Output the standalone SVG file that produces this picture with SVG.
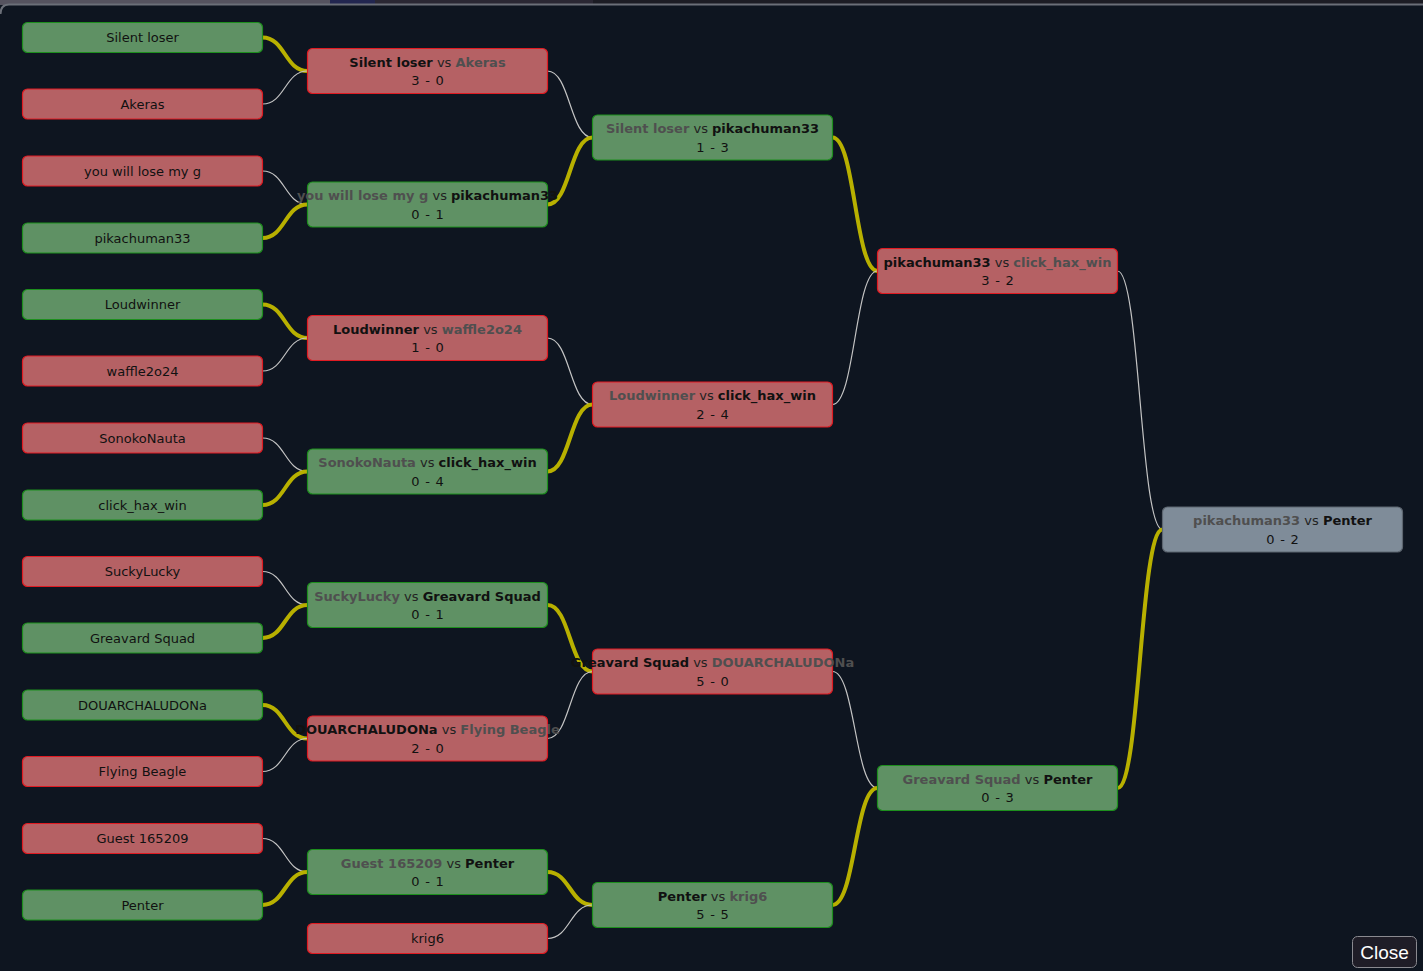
<svg xmlns="http://www.w3.org/2000/svg" width="1423" height="971" viewBox="0 0 1423 971">
<style>
text{font-family:"DejaVu Sans",Verdana,sans-serif;font-size:13px;fill:#111;text-anchor:middle}
.s{word-spacing:1.6px}
.g{fill:#5f9164;stroke:#1d8f1d;stroke-width:1.2}
.r{fill:#b56164;stroke:#e01b22;stroke-width:1.2}
.n{fill:#7f8c99;stroke:#5d6670;stroke-width:1.2}
.w{font-weight:bold;fill:#111}
.l{font-weight:bold;fill:#4f4f4f}
.vs{fill:#222}
#connectors path{fill:none}
.cy{stroke:#b8b000;stroke-width:4}
.cg{stroke:#c4c4c4;stroke-width:1.2}
</style>
<rect x="0" y="0" width="1423" height="971" fill="#0e1520"/>
<rect x="0" y="0" width="330" height="5" fill="#55535f"/>
<rect x="330" y="0" width="45" height="5" fill="#222650"/>
<rect x="375" y="0" width="218" height="5" fill="#2a2733"/>
<rect x="593" y="0" width="830" height="5" fill="#1c1c24"/>
<path d="M0.5,14 Q0.5,4.5 9,4.5 H1423" fill="none" stroke="#6b6f78" stroke-width="2"/>
<g id="connectors">
<path class="cy" d="M262.5,37.5 C285,37.5 285,71 307.5,71"/>
<path class="cg" d="M262.5,104 C285,104 285,71 307.5,71"/>
<path class="cg" d="M262.5,171 C285,171 285,204.5 307.5,204.5"/>
<path class="cy" d="M262.5,238 C285,238 285,204.5 307.5,204.5"/>
<path class="cy" d="M262.5,304.5 C285,304.5 285,338 307.5,338"/>
<path class="cg" d="M262.5,371 C285,371 285,338 307.5,338"/>
<path class="cg" d="M262.5,438 C285,438 285,471.5 307.5,471.5"/>
<path class="cy" d="M262.5,505 C285,505 285,471.5 307.5,471.5"/>
<path class="cg" d="M262.5,571.5 C285,571.5 285,605 307.5,605"/>
<path class="cy" d="M262.5,638 C285,638 285,605 307.5,605"/>
<path class="cy" d="M262.5,705 C285,705 285,738.5 307.5,738.5"/>
<path class="cg" d="M262.5,771.5 C285,771.5 285,738.5 307.5,738.5"/>
<path class="cg" d="M262.5,838.5 C285,838.5 285,872 307.5,872"/>
<path class="cy" d="M262.5,905 C285,905 285,872 307.5,872"/>
<path class="cg" d="M547.5,71 C570,71 570,137.5 592.5,137.5"/>
<path class="cy" d="M547.5,204.5 C570,204.5 570,137.5 592.5,137.5"/>
<path class="cg" d="M547.5,338 C570,338 570,404.5 592.5,404.5"/>
<path class="cy" d="M547.5,471.5 C570,471.5 570,404.5 592.5,404.5"/>
<path class="cy" d="M547.5,605 C570,605 570,671.5 592.5,671.5"/>
<path class="cg" d="M547.5,738.5 C570,738.5 570,671.5 592.5,671.5"/>
<path class="cy" d="M547.5,872 C570,872 570,905 592.5,905"/>
<path class="cg" d="M547.5,938.5 C570,938.5 570,905 592.5,905"/>
<path class="cy" d="M832.5,137.5 C855,137.5 855,271 877.5,271"/>
<path class="cg" d="M832.5,404.5 C855,404.5 855,271 877.5,271"/>
<path class="cg" d="M832.5,671.5 C855,671.5 855,788 877.5,788"/>
<path class="cy" d="M832.5,905 C855,905 855,788 877.5,788"/>
<path class="cg" d="M1117.5,271 C1140,271 1140,529.5 1162.5,529.5"/>
<path class="cy" d="M1117.5,788 C1140,788 1140,529.5 1162.5,529.5"/>
</g>
<g id="leaf-silent-loser"><rect class="g" x="22.5" y="22.5" width="240" height="30" rx="5"/><text x="142.5" y="42">Silent loser</text></g>
<g id="leaf-akeras"><rect class="r" x="22.5" y="89" width="240" height="30" rx="5"/><text x="142.5" y="108.5">Akeras</text></g>
<g id="leaf-you-will-lose"><rect class="r" x="22.5" y="156" width="240" height="30" rx="5"/><text x="142.5" y="175.5">you will lose my g</text></g>
<g id="leaf-pikachuman33"><rect class="g" x="22.5" y="223" width="240" height="30" rx="5"/><text x="142.5" y="242.5">pikachuman33</text></g>
<g id="leaf-loudwinner"><rect class="g" x="22.5" y="289.5" width="240" height="30" rx="5"/><text x="142.5" y="309">Loudwinner</text></g>
<g id="leaf-waffle"><rect class="r" x="22.5" y="356" width="240" height="30" rx="5"/><text x="142.5" y="375.5">waffle2o24</text></g>
<g id="leaf-sonoko"><rect class="r" x="22.5" y="423" width="240" height="30" rx="5"/><text x="142.5" y="442.5">SonokoNauta</text></g>
<g id="leaf-click"><rect class="g" x="22.5" y="490" width="240" height="30" rx="5"/><text x="142.5" y="509.5">click_hax_win</text></g>
<g id="leaf-sucky"><rect class="r" x="22.5" y="556.5" width="240" height="30" rx="5"/><text x="142.5" y="576">SuckyLucky</text></g>
<g id="leaf-greavard"><rect class="g" x="22.5" y="623" width="240" height="30" rx="5"/><text x="142.5" y="642.5">Greavard Squad</text></g>
<g id="leaf-douar"><rect class="g" x="22.5" y="690" width="240" height="30" rx="5"/><text x="142.5" y="709.5">DOUARCHALUDONa</text></g>
<g id="leaf-beagle"><rect class="r" x="22.5" y="756.5" width="240" height="30" rx="5"/><text x="142.5" y="776">Flying Beagle</text></g>
<g id="leaf-guest"><rect class="r" x="22.5" y="823.5" width="240" height="30" rx="5"/><text x="142.5" y="843">Guest 165209</text></g>
<g id="leaf-penter"><rect class="g" x="22.5" y="890" width="240" height="30" rx="5"/><text x="142.5" y="909.5">Penter</text></g>
<g id="leaf-krig6"><rect class="r" x="307.5" y="923.5" width="240" height="30" rx="5"/><text x="427.5" y="943">krig6</text></g>
<g id="m1"><rect class="r" x="307.5" y="48.5" width="240" height="45" rx="5"/><text x="427.5" y="66.5"><tspan class="w">Silent loser</tspan><tspan class="vs"> vs </tspan><tspan class="l">Akeras</tspan></text><text class="s" x="427.5" y="85">3 - 0</text></g>
<g id="m2"><rect class="g" x="307.5" y="182" width="240" height="45" rx="5"/><text x="427.5" y="200"><tspan class="l">you will lose my g</tspan><tspan class="vs"> vs </tspan><tspan class="w">pikachuman33</tspan></text><text class="s" x="427.5" y="218.5">0 - 1</text></g>
<g id="m3"><rect class="r" x="307.5" y="315.5" width="240" height="45" rx="5"/><text x="427.5" y="333.5"><tspan class="w">Loudwinner</tspan><tspan class="vs"> vs </tspan><tspan class="l">waffle2o24</tspan></text><text class="s" x="427.5" y="352">1 - 0</text></g>
<g id="m4"><rect class="g" x="307.5" y="449" width="240" height="45" rx="5"/><text x="427.5" y="467"><tspan class="l">SonokoNauta</tspan><tspan class="vs"> vs </tspan><tspan class="w">click_hax_win</tspan></text><text class="s" x="427.5" y="485.5">0 - 4</text></g>
<g id="m5"><rect class="g" x="307.5" y="582.5" width="240" height="45" rx="5"/><text x="427.5" y="600.5"><tspan class="l">SuckyLucky</tspan><tspan class="vs"> vs </tspan><tspan class="w">Greavard Squad</tspan></text><text class="s" x="427.5" y="619">0 - 1</text></g>
<g id="m6"><rect class="r" x="307.5" y="716" width="240" height="45" rx="5"/><text x="427.5" y="734"><tspan class="w">DOUARCHALUDONa</tspan><tspan class="vs"> vs </tspan><tspan class="l">Flying Beagle</tspan></text><text class="s" x="427.5" y="752.5">2 - 0</text></g>
<g id="m7"><rect class="g" x="307.5" y="849.5" width="240" height="45" rx="5"/><text x="427.5" y="867.5"><tspan class="l">Guest 165209</tspan><tspan class="vs"> vs </tspan><tspan class="w">Penter</tspan></text><text class="s" x="427.5" y="886">0 - 1</text></g>
<g id="q1"><rect class="g" x="592.5" y="115" width="240" height="45" rx="5"/><text x="712.5" y="133"><tspan class="l">Silent loser</tspan><tspan class="vs"> vs </tspan><tspan class="w">pikachuman33</tspan></text><text class="s" x="712.5" y="151.5">1 - 3</text></g>
<g id="q2"><rect class="r" x="592.5" y="382" width="240" height="45" rx="5"/><text x="712.5" y="400"><tspan class="l">Loudwinner</tspan><tspan class="vs"> vs </tspan><tspan class="w">click_hax_win</tspan></text><text class="s" x="712.5" y="418.5">2 - 4</text></g>
<g id="q3"><rect class="r" x="592.5" y="649" width="240" height="45" rx="5"/><text x="712.5" y="667"><tspan class="w">Greavard Squad</tspan><tspan class="vs"> vs </tspan><tspan class="l">DOUARCHALUDONa</tspan></text><text class="s" x="712.5" y="685.5">5 - 0</text></g>
<g id="q4"><rect class="g" x="592.5" y="882.5" width="240" height="45" rx="5"/><text x="712.5" y="900.5"><tspan class="w">Penter</tspan><tspan class="vs"> vs </tspan><tspan class="l">krig6</tspan></text><text class="s" x="712.5" y="919">5 - 5</text></g>
<g id="s1"><rect class="r" x="877.5" y="248.5" width="240" height="45" rx="5"/><text x="997.5" y="266.5"><tspan class="w">pikachuman33</tspan><tspan class="vs"> vs </tspan><tspan class="l">click_hax_win</tspan></text><text class="s" x="997.5" y="285">3 - 2</text></g>
<g id="s2"><rect class="g" x="877.5" y="765.5" width="240" height="45" rx="5"/><text x="997.5" y="783.5"><tspan class="l">Greavard Squad</tspan><tspan class="vs"> vs </tspan><tspan class="w">Penter</tspan></text><text class="s" x="997.5" y="802">0 - 3</text></g>
<g id="final"><rect class="n" x="1162.5" y="507" width="240" height="45" rx="5"/><text x="1282.5" y="525"><tspan class="l">pikachuman33</tspan><tspan class="vs"> vs </tspan><tspan class="w">Penter</tspan></text><text class="s" x="1282.5" y="543.5">0 - 2</text></g>
<g id="close-button"><rect x="1352.5" y="936.5" width="64" height="31" rx="5" fill="#1f1d27" stroke="#8a8a90" stroke-width="1"/><text x="1384.5" y="959" style="font-family:'Liberation Sans',sans-serif;font-size:19px;fill:#fff">Close</text></g>
</svg>
